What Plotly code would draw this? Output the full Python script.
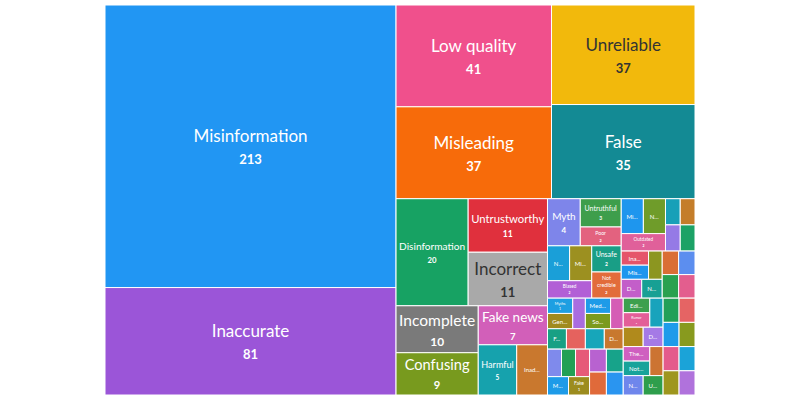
import plotly.graph_objects as go

# ---- data ----
categories = [
    "Misinformation", "Inaccurate", "Low quality", "Misleading", "Unreliable", "False",
    "Disinformation", "Untrustworthy", "Incorrect", "Incomplete", "Confusing", "Fake news", "Harmful",
    "Inad...", "Myth", "Untruthful", "Poor", "N...", "Mi...", "Biased", "Unsafe", "Not credible",
    "Mi...", "N...", "Outdated", "", "", "", "",
    "Ina...", "Mis...", "", "D...", "N...", "", "", "", "",
    "Myths", "Gen...", "", "F...", "", "Med...", "So...", "", "", "D...",
    "", "", "", "M...", "Fake", "", "", "", "",
    "Edi...", "Rumor", "", "", "D...", "", "", "", "",
    "The...", "Not...", "", "N...", "U...", "", "", "", "",
]
counts = [213, 81, 41, 37, 37, 35, 20, 11, 11, 10, 9, 7, 5, 4, 4, 3,
          2, 2, 2, 2, 2, 2, 2, 2, 2] + [1] * 50

colors = [
    "#2196F3", "#9B55D8", "#F0508C", "#F76B0A", "#F2B90C", "#138A94",
    "#17A263", "#E0303D", "#A9A9A9", "#7A7A7A", "#789A1E", "#D25FB9", "#16A2AD",
    "#C9782E", "#7E85EA", "#3E9E4C", "#E3627F", "#1A9FD8", "#9C9020", "#B25FD6",
    "#199E86", "#E26C3B", "#1E96EE", "#6F9C2A", "#E0609A",
    "#18A0B8", "#C47D2A", "#957AE6", "#1CA266",
    "#E5546A", "#1E96EE", "#8C9620", "#C35EC9", "#17A094", "#DA6E35", "#5C8EEF", "#2AA14F", "#E35E8E",
    "#1E9FE2", "#A08A1E", "#A96DE0", "#17A084", "#E5625E", "#1E9BE8", "#7B9A1E", "#D55DB5", "#17A6BA", "#C8782E",
    "#7F8AEC", "#22A055", "#E65A78", "#1E9BE8", "#9C8C1E", "#B862D0", "#17A38A", "#E06A3A", "#2A95F0",
    "#3DA04E", "#E35E98", "#18A3BC", "#B08A1C", "#A57AE6", "#22A058", "#E56464", "#1E9BEA", "#889A1E",
    "#CF5FC0", "#17A39A", "#CC7432", "#6F86EC", "#2E9E4C", "#E45A8C", "#1BA3D8", "#9E961E", "#B072DC",
]


def luminance(hex_color):
    h = hex_color.lstrip("#")
    rgb = [int(h[i:i + 2], 16) / 255 for i in (0, 2, 4)]
    lin = [c / 12.92 if c <= 0.04045 else ((c + 0.055) / 1.055) ** 2.4 for c in rgb]
    return 0.2126 * lin[0] + 0.7152 * lin[1] + 0.0722 * lin[2]


def label_size(name, v):
    if name.endswith("..."):
        return 6
    if v >= 9:
        return 17
    if v >= 5:
        return 14
    if v == 4:
        return 10
    return 7


n = len(categories)
ids = [f"n{i}" for i in range(n)]
labels = [c if c else f"item {i}" for i, c in enumerate(categories)]
sizes = [label_size(c, v) for c, v in zip(categories, counts)]
text_colors = ["#333333" if luminance(c) > 0.35 else "#FFFFFF" for c in colors]

texts = []
for name, v, s in zip(categories, counts, sizes):
    if not name:
        texts.append("")
    elif name.endswith("..."):
        texts.append(name)
    else:
        shown = name.replace(" ", "<br>") if v < 5 else name
        texts.append(f"{shown}<br><span style='font-size:{round(s * 0.75)}px'><b>{v}</b></span>")

fig = go.Figure(go.Treemap(
    ids=ids,
    labels=labels,
    parents=[""] * n,
    values=counts,
    sort=True,
    tiling=dict(packing="binary", pad=0),
    marker=dict(colors=colors, line=dict(color="#FFFFFF", width=1),
                pad=dict(t=0, l=0, r=0, b=0)),
    text=texts,
    texttemplate="%{text}",
    textposition="middle center",
    textfont=dict(family="Lato", size=sizes, color=text_colors),
    pathbar=dict(visible=False),
    hoverinfo="skip",
))

fig.update_layout(
    width=800, height=401,
    margin=dict(l=105, r=105, t=5, b=6),
    paper_bgcolor="#FFFFFF",
)

fig.write_html("out.html")
